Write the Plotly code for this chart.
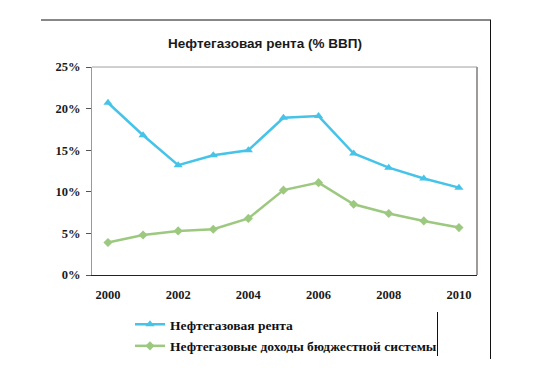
import plotly.graph_objects as go

years = [2000, 2001, 2002, 2003, 2004, 2005, 2006, 2007, 2008, 2009, 2010]
rent = [20.7, 16.8, 13.2, 14.4, 15.0, 18.9, 19.1, 14.6, 12.9, 11.6, 10.5]
budget = [3.9, 4.8, 5.3, 5.5, 6.8, 10.2, 11.1, 8.5, 7.4, 6.5, 5.7]
x_ticks = [2000, 2002, 2004, 2006, 2008, 2010]
y_ticks = [0, 5, 10, 15, 20, 25]
y_labels = ["0%", "5%", "10%", "15%", "20%", "25%"]

BLUE = "#45C3E8"
GREEN = "#9CC97F"

# plot area in pixels
L, R, T, B = 92, 477, 67, 275
W, H = 552, 386

def px(x):
    return (x - L) / (R - L)

def py(y):
    return (B - y) / (B - T)

fig = go.Figure()
fig.add_trace(go.Scatter(
    x=years, y=rent, mode="lines+markers", name="<b>Нефтегазовая рента</b>",
    line=dict(color=BLUE, width=2.5),
    marker=dict(symbol="triangle-up", size=8, color=BLUE),
    legendgroup="a",
))
fig.add_trace(go.Scatter(
    x=years, y=budget, mode="lines+markers", name="<b>Нефтегазовые доходы бюджестной системы</b>",
    line=dict(color=GREEN, width=2.5),
    marker=dict(symbol="diamond", size=7, color=GREEN),
    legendgroup="b",
))

serif = "Liberation Serif, Times New Roman, serif"

fig.update_layout(
    width=W, height=H,
    margin=dict(l=L, r=W - R, t=T, b=H - B, pad=0),
    paper_bgcolor="white", plot_bgcolor="white",
    title=dict(text="<b>Нефтегазовая рента (% ВВП)</b>",
               font=dict(family="Liberation Sans, Arial, sans-serif", size=13.5, color="#1a1a1a"),
               x=265 / W, xanchor="center", y=1 - 43 / H, yanchor="middle"),
    xaxis=dict(range=[1999.545, 2010.515], tickmode="array", tickvals=x_ticks,
               ticktext=[f"<b>{v}</b>" for v in x_ticks],
               showgrid=False, zeroline=False, showline=True, linecolor="#222222", linewidth=1,
               ticks="", ticklabelstandoff=8,
               tickfont=dict(family=serif, size=12.5, color="#1a1a1a"),
               mirror=False),
    yaxis=dict(range=[0, 25], tickmode="array", tickvals=y_ticks,
               ticktext=[f"<b>{v}</b>" for v in y_labels],
               showgrid=False, zeroline=False, showline=True, linecolor="#999999", linewidth=1,
               ticks="outside", ticklen=5, tickcolor="#555555", ticklabelstandoff=3,
               tickfont=dict(family=serif, size=12.5, color="#1a1a1a")),
    legend=dict(x=px(130), y=py(309), xanchor="left", yanchor="top",
                font=dict(family=serif, size=13.5, color="#111111"),
                traceorder="grouped", tracegroupgap=1, itemwidth=30,
                bgcolor="rgba(0,0,0,0)"),
    showlegend=True,
)

shapes = [
    # plot frame top & right (gray)
    dict(type="line", xref="paper", yref="paper", x0=0, x1=1, y0=1, y1=1,
         line=dict(color="#a0a0a0", width=1)),
    dict(type="line", xref="paper", yref="paper", x0=1, x1=1, y0=0, y1=1,
         line=dict(color="#a09a9a", width=2)),
    # outer frame lines
    dict(type="line", xref="paper", yref="paper", x0=px(41), x1=px(491), y0=py(20), y1=py(20),
         line=dict(color="#111111", width=1)),
    dict(type="line", xref="paper", yref="paper", x0=px(490.5), x1=px(490.5), y0=py(20), y1=py(359),
         line=dict(color="#111111", width=1)),
    # line right of legend
    dict(type="line", xref="paper", yref="paper", x0=px(437.5), x1=px(437.5), y0=py(312), y1=py(356),
         line=dict(color="#111111", width=1)),
]
fig.update_layout(shapes=shapes)

fig.write_html("out.html", config={"displayModeBar": False},
               post_script="document.body.style.margin='0';document.body.style.padding='0';")
